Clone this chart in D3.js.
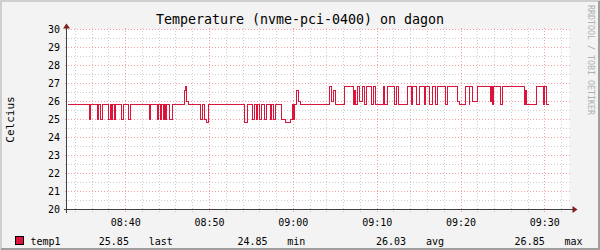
<!DOCTYPE html>
<html>
<head>
<meta charset="utf-8">
<script src="https://cdn.jsdelivr.net/npm/d3@7"></script>
<style>
  body { margin: 0; background: #f3f3f3; }
  svg text { font-family: "DejaVu Sans Mono", monospace; }
</style>
</head>
<body>
<div id="plot"></div>
<script>
// data: minutes after 08:33, value holds until next step
const stepMinutes = [
  0, 2.66, 2.83, 3.61, 3.73, 3.94, 4.18, 4.97, 5.13, 5.28, 5.45, 5.61, 5.76,
  6.53, 6.76, 7.28, 7.52, 9.82, 9.98, 10.77, 10.97, 11.13, 11.30, 11.49, 11.61,
  11.69, 11.81, 12.25, 12.53, 14.04, 14.16, 14.28, 14.52, 15.90, 16.19, 16.43,
  16.62, 16.82, 21.23, 21.51, 22.10, 22.31, 22.55, 22.78, 23.02, 23.23, 23.54,
  23.74, 24.22, 24.45, 24.61, 24.93, 25.53, 26.09, 26.69, 26.88, 27.00, 27.11,
  27.40, 27.59, 27.88, 31.37, 31.58, 31.77, 31.97, 33.16, 34.15, 34.32, 34.44,
  34.60, 34.92, 35.19, 35.51, 35.70, 36.30, 36.59, 36.78, 37.70, 37.90, 38.29,
  39.09, 39.28, 39.49, 40.59, 41.07, 41.27, 41.67, 42.07, 42.59, 42.79, 43.27,
  43.54, 43.93, 44.17, 45.13, 45.37, 46.61, 46.76, 47.51, 47.99, 48.07, 48.40,
  48.99, 50.50, 50.64, 50.76, 50.90, 51.69, 51.89, 54.55, 54.69, 54.81, 55.95,
  56.82, 56.99, 57.14, 57.44
];
const tempValues = [
  25.85, 25.05, 25.85, 25.05, 25.85, 25.05, 25.85, 25.05, 25.85, 25.05, 25.85, 25.05, 25.85,
  25.05, 25.85, 25.05, 25.85, 25.05, 25.85, 25.05, 25.85, 25.05, 25.85, 25.05, 25.85,
  25.05, 25.85, 25.05, 25.85, 26.65, 26.85, 26.05, 25.85, 25.05, 25.85, 25.05,
  24.85, 25.85, 24.85, 25.85, 25.05, 25.85, 25.05, 25.85, 25.05, 25.85, 25.05,
  25.85, 25.05, 25.85, 25.05, 25.85, 25.05, 24.85, 25.05, 25.85, 25.05, 25.85,
  26.65, 26.05, 25.85, 26.85, 26.05, 26.65, 25.85, 26.85, 25.85, 26.65, 25.85,
  26.85, 26.05, 26.85, 25.85, 26.85, 25.85, 26.85, 25.85, 26.85, 25.85, 26.85,
  25.85, 26.85, 25.85, 26.85, 25.85, 26.85, 25.85, 26.85, 25.85, 26.85, 25.85,
  26.85, 25.85, 26.85, 25.85, 26.85, 26.05, 25.85, 26.85, 25.85, 26.85, 26.05,
  26.85, 26.05, 26.85, 25.85, 26.85, 25.85, 26.85, 25.85, 26.65, 25.85, 26.85,
  25.85, 26.85, 25.85, 25.85
];

const yTicks = [20, 21, 22, 23, 24, 25, 26, 27, 28, 29, 30];
const xTickLabels = ["08:40", "08:50", "09:00", "09:10", "09:20", "09:30"];
const statLabels = ["last", "min", "avg", "max"];
const statValues = [25.85, 24.85, 26.03, 26.85];

const w = 600;
const h = 250;
const x0 = 66.5, x1 = 569.5, yTop = 29.5, yBot = 209.5;

const t0 = new Date(2024, 0, 1, 8, 33);
const toDate = m => new Date(t0.getTime() + m * 60000);

const xScale = d3.scaleTime()
    .domain([t0, toDate(60)])
    .range([x0, x1]);
const yScale = d3.scaleLinear()
    .domain([20, 30])
    .range([yBot, yTop]);

const svg = d3.select("div#plot")
    .append("svg")
    .attr("width", w)
    .attr("height", h);

// background + frame
svg.append("rect").attr("width", w).attr("height", h).attr("fill", "#f3f3f3");
svg.append("path").attr("d", `M1,${h} V1 H${w}`).attr("fill", "none")
    .attr("stroke", "#cfcfcf").attr("stroke-width", 2);
svg.append("path").attr("d", `M1,${h - 1} H${w - 1} V1`).attr("fill", "none")
    .attr("stroke", "#9e9e9e").attr("stroke-width", 2);

svg.append("rect")
    .attr("x", x0).attr("y", yTop)
    .attr("width", x1 - x0).attr("height", yBot - yTop)
    .attr("fill", "white");

// minor grid
const minorX = d3.timeMinute.every(2).range(toDate(0), toDate(60.01))
    .filter(d => d.getMinutes() % 10 !== 0);
const minorY = d3.range(20.5, 30, 1);
const grid = svg.append("g").attr("shape-rendering", "crispEdges");

grid.selectAll(".mx").data(minorX).enter().append("line")
    .attr("x1", d => Math.round(xScale(d)) + 0.5).attr("x2", d => Math.round(xScale(d)) + 0.5)
    .attr("y1", yTop - 2).attr("y2", yBot + 2)
    .attr("stroke", "#cdcdcd").attr("stroke-dasharray", "1,2");
grid.selectAll(".my").data(minorY).enter().append("line")
    .attr("x1", x0 - 2).attr("x2", x1 + 2)
    .attr("y1", d => yScale(d)).attr("y2", d => yScale(d))
    .attr("stroke", "#cdcdcd").attr("stroke-dasharray", "1,2");

// major grid
const majorX = xTickLabels.map(s => {
  const [hh, mm] = s.split(":").map(Number);
  return new Date(2024, 0, 1, hh, mm);
});
grid.selectAll(".Mx").data(majorX).enter().append("line")
    .attr("x1", d => Math.round(xScale(d)) + 0.5).attr("x2", d => Math.round(xScale(d)) + 0.5)
    .attr("y1", yTop - 2).attr("y2", yBot + 2)
    .attr("stroke", "#f4a0a0").attr("stroke-dasharray", "1,2");
grid.selectAll(".My").data(yTicks.slice(1)).enter().append("line")
    .attr("x1", x0 - 2).attr("x2", x1 + 2)
    .attr("y1", d => yScale(d)).attr("y2", d => yScale(d))
    .attr("stroke", "#f4a0a0").attr("stroke-dasharray", "1,2");

// data line
const pts = stepMinutes.map((m, i) => [toDate(m), tempValues[i]]);
const line = d3.line()
    .x(d => Math.round(xScale(d[0])) + 0.5)
    .y(d => Math.round(yScale(d[1])) + 0.5)
    .curve(d3.curveStepAfter);
svg.append("path")
    .datum(pts)
    .attr("d", line)
    .attr("fill", "none")
    .attr("stroke", "#dc143c")
    .attr("stroke-width", 1)
    .attr("shape-rendering", "crispEdges");

// axes
const ax = svg.append("g").attr("shape-rendering", "crispEdges");
ax.append("line").attr("x1", x0).attr("x2", x1 + 5).attr("y1", yBot).attr("y2", yBot)
    .attr("stroke", "#404040");
ax.append("line").attr("x1", x0).attr("x2", x0).attr("y1", yBot + 3).attr("y2", yTop - 3)
    .attr("stroke", "#404040");
ax.selectAll(".yt").data([20]).enter().append("line")
    .attr("x1", x0 - 3).attr("x2", x0 + 3)
    .attr("y1", d => yScale(d)).attr("y2", d => yScale(d))
    .attr("stroke", "#404040");
svg.append("path")
    .attr("d", `M${x1 + 3},${yBot - 3.5} L${x1 + 8},${yBot} L${x1 + 3},${yBot + 3.5} Z`)
    .attr("fill", "#7f1f1f");
svg.append("path")
    .attr("d", `M${x0 - 3.5},${yTop - 1} L${x0},${yTop - 6} L${x0 + 3.5},${yTop - 1} Z`)
    .attr("fill", "#7f1f1f");

// tick labels
svg.selectAll(".ylab").data(yTicks).enter().append("text")
    .attr("x", 60).attr("y", d => yScale(d) + 3.5)
    .attr("text-anchor", "end")
    .style("font-size", "10px").style("fill", "#000")
    .text(d => d);
svg.selectAll(".xlab").data(majorX).enter().append("text")
    .attr("x", d => xScale(d) + 0.5).attr("y", 226)
    .attr("text-anchor", "middle")
    .style("font-size", "10px").style("fill", "#000")
    .text((d, i) => xTickLabels[i]);

// title, unit, watermark
svg.append("text")
    .attr("x", w / 2).attr("y", 24)
    .attr("text-anchor", "middle")
    .style("font-size", "13.3px")
    .text("Temperature (nvme-pci-0400) on dagon");
svg.append("text")
    .attr("transform", `translate(14, ${(yTop + yBot) / 2}) rotate(-90)`)
    .attr("text-anchor", "middle")
    .style("font-size", "11px")
    .text("Celcius");
svg.append("text")
    .attr("transform", `translate(588, 5) rotate(90)`)
    .attr("text-anchor", "start")
    .style("font-size", "8.3px").style("fill", "#b0b0b0")
    .text("RRDTOOL / TOBI OETIKER");

// legend
svg.append("rect")
    .attr("x", 15.5).attr("y", 236.5).attr("width", 8).attr("height", 8)
    .attr("fill", "#dc143c").attr("stroke", "#000")
    .attr("shape-rendering", "crispEdges");
svg.append("text").attr("x", 30.5).attr("y", 245)
    .style("font-size", "10px").text("temp1");
statValues.forEach((v, i) => {
  svg.append("text").attr("x", 98.8 + i * 138.6).attr("y", 245)
      .style("font-size", "10px").text(v.toFixed(2));
  svg.append("text").attr("x", 148.7 + i * 138.6).attr("y", 245)
      .style("font-size", "10px").text(statLabels[i]);
});
</script>
</body>
</html>
